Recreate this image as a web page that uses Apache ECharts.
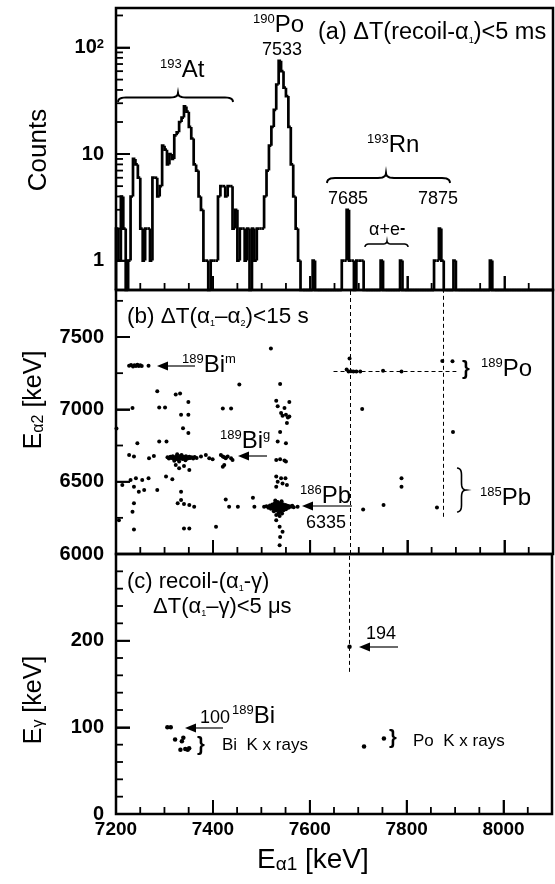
<!DOCTYPE html>
<html><head><meta charset="utf-8">
<script src="https://cdn.jsdelivr.net/npm/echarts@6/dist/echarts.min.js"></script>
<style>html,body{margin:0;padding:0;background:#fff}#c{width:555px;height:884px}</style>
</head><body><div id="c"></div>
<script>
const FF = '"Liberation Sans", Arial, Helvetica, sans-serif';

// ---------- DATA ----------
// (a) alpha1 histogram, 5 keV bins from 7200 keV
const histStart = 7200;
const histBinWidth = 5;
const histCounts = [
  2,1,4,2,0,1,4,9,8,6,
  2,1,2,2,1,6,6,4,5,12,
  11,8,10,9,15,16,20,22,28,25,
  18,14,8,7,4,3,1,1,0,1,
  1,1,4,5,5,4,5,5,2,3,
  1,2,2,1,2,0,2,1,2,2,
  2,4,7,12,18,26,45,75,60,42,
  35,18,8,4,2,1,0,0,0,0,
  0,1,0,0,0,0,0,0,0,0,
  0,0,0,1,1,3,1,1,0,1,
  1,1,0,0,0,0,0,0,0,1,
  0,0,0,0,0,0,0,1,0,0,
  0,0,0,0,0,0,0,0,0,0,
  0,1,1,2,1,0,0,0,0,1,
  0,0,0,0,0,0,0,0,0,0,
  0,0,0,0,1,0,0,0,0,0,
  0,0,0,0,0,0,0,0,0,0,
  0,0,0,0,0,0,0,0,0,0
];
// tick positions
const xTickValues = [7250,7300,7350,7400,7450,7500,7550,7600,7650,7700,7750,7800,7850,7900,7950,8000,8050];
const xMajorTicks = [7400,7600,7800,8000];
const logTickValues = [1,2,3,4,5,6,7,8,9,10,20,30,40,50,60,70,80,90,100,200];
const logMajorTicks = [1,10,100];
const ea2TickValues = [6250,6500,6750,7000,7250,7500,7750];
const ea2MajorTicks = [6500,7000,7500];
const egTickValues = [20,40,60,80,100,120,140,160,180,200,220,240,260,280];
const egMajorTicks = [100,200];

// (b) alpha1-alpha2 correlations [E_alpha1, E_alpha2]
const bimPoints = [[7227,7301],[7231,7306],[7235,7297],[7238,7304],[7241,7300],[7244,7308],[7247,7299],[7250,7305],[7253,7300],[7267,7301]];
const bigPoints = [[7306,6668],[7309,6660],[7312,6672],[7314,6664],[7317,6676],[7319,6658],[7321,6668],[7323,6662],[7325,6674],[7326,6655],[7328,6666],[7330,6670],[7331,6660],[7333,6678],[7334,6664],[7336,6668],[7337,6656],[7339,6672],[7340,6662],[7342,6666],[7344,6676],[7345,6658],[7347,6668],[7349,6662],[7351,6672],[7353,6664],[7356,6668],[7359,6660],[7362,6670],[7366,6664],[7320,6645],[7330,6640],[7343,6648],[7335,6684],[7326,6690],
  [7227,6685],[7237,6674],[7268,6662],[7278,6678],[7375,6674],[7385,6685],[7392,6662],[7399,6655],[7416,6685],[7420,6674],[7423,6668],[7426,6662],[7430,6674],[7437,6662],[7440,6650],[7423,6616],[7420,6604],[7323,6616],[7330,6593],[7340,6609],[7351,6581]];
const pbPoints = [[7505,6326],[7510,6330],[7514,6320],[7517,6336],[7519,6312],[7520,6326],[7522,6342],[7523,6318],[7525,6330],[7526,6308],[7527,6350],[7528,6324],[7529,6338],[7530,6316],[7531,6330],[7532,6344],[7533,6322],[7534,6334],[7535,6310],[7535,6328],[7536,6340],[7537,6318],[7538,6332],[7539,6352],[7540,6324],[7541,6312],[7542,6336],[7543,6328],[7544,6344],[7545,6316],[7546,6330],[7548,6322],[7549,6338],[7550,6310],[7551,6328],[7553,6334],[7555,6320],[7557,6330],[7560,6326],[7563,6334],[7566,6324],[7530,6300],[7538,6296],[7545,6302],[7525,6296],[7533,6360],[7541,6364],[7528,6370],[7535,6284],[7542,6280],[7530,6270],[7537,6262]];
const poBandPoints = [[7519,7421],[7538,7176],[7530,7060],[7557,7051],[7533,7021],[7547,7009],[7540,6975],[7550,6963],[7557,6951],[7543,6956],[7554,6944],[7552,6905],[7538,6843],[7533,6778],[7550,6766],[7530,6650],[7538,6655],[7547,6646],[7550,6639],[7530,6535],[7540,6523],[7549,6523],[7533,6500],[7543,6488],[7552,6477],[7530,6465],[7530,6234],[7537,6188],[7543,6153],[7538,6118],[7537,6060]];
const otherPoints = [[7285,7125],[7323,7102],[7332,7109],[7349,7051],[7234,7009],[7289,7012],[7301,7012],[7420,7005],[7437,7005],[7334,6963],[7349,6963],[7338,6870],[7349,6836],[7244,6766],[7289,6778],[7304,6778],[7201,6868],[7454,7171],
  [7213,6477],[7230,6512],[7241,6523],[7254,6512],[7267,6523],[7237,6465],[7247,6431],[7258,6442],[7285,6442],[7303,6535],[7316,6516],[7334,6431],[7327,6350],[7334,6373],[7340,6346],[7351,6338],[7361,6326],[7237,6350],[7234,6292],[7206,6234],[7237,6169],[7340,6176],[7351,6176],[7406,6188],[7426,6377],[7433,6326],[7451,6326],[7482,6389],[7485,6326],[7574,6326],
  [7707,7002],[7709,6308],[7751,6338],[7788,6523],[7788,6465],[7861,6322],[7894,6843]];
const po189Points = [[7681,7352],[7675,7275],[7679,7262],[7684,7264],[7689,7262],[7695,7262],[7703,7262],[7750,7266],[7788,7262],[7872,7335],[7893,7332]];
const refLinesB = [[[7682,6000],[7682,7825]],[[7874,6257],[7874,7825]],[[7648,7265],[7901,7265]]];

// (c) alpha1-gamma [E_alpha1, E_gamma]
const gammaPoints = [[7306,100],[7313,100],[7322,86],[7336,84],[7339,88],[7333,74],[7343,75],[7348,74],[7351,76],[7682,193],[7712,78],[7753,87]];
const refLinesC = [[[7682,164],[7682,300]]];

// ---------- CHART ----------
const chart = echarts.init(document.getElementById('c'));
const histData = histCounts.map((c, i) => [histStart + i*histBinWidth, histStart + (i+1)*histBinWidth, c, i > 0 ? histCounts[i-1] : 0]);

function renderHist(params, api) {
  const cs = params.coordSys;
  const base = cs.y + cs.height;
  const yOf = v => v > 0 ? Math.max(cs.y, Math.min(base, api.coord([api.value(0), v])[1])) : base;
  const X0 = api.coord([api.value(0), 1])[0];
  const X1 = api.coord([api.value(1), 1])[0];
  const yc = yOf(api.value(2)), yp = yOf(api.value(3));
  return {type:'polyline', shape:{points:[[X0, yp],[X0, yc],[X1, yc]]}, style:{stroke:'#000', lineWidth:2.7, fill:null}};
}

const gridCommon = {left:116, width:437, show:true, borderColor:'#000', borderWidth:2.5};
const majorTick = {show:true, inside:true, length:14, lineStyle:{color:'#000', width:1.8}};
function xAxis(gi, withLabels) {
  return {gridIndex:gi, type:'value', min:7200, max:8100, interval:200, position:'bottom', axisLine:{show:false}, splitLine:{show:false}, axisTick:majorTick,
      axisLabel:{show:withLabels, margin:6, color:'#000', fontSize:19, fontWeight:'bold', fontFamily:FF,
        formatter: v => (v % 200 === 0 && v <= 8000) ? String(v) : ''}};
}
const yLabelStyle = {margin:12, color:'#000', fontSize:20, fontWeight:'bold', fontFamily:FF};

const option = {
  backgroundColor:'#fff',
  animation:false,
  grid:[
    Object.assign({}, gridCommon, {top:8, height:282}),
    Object.assign({}, gridCommon, {top:290, height:264}),
    Object.assign({}, gridCommon, {top:554, height:260})
  ],
  xAxis: [xAxis(0,false), xAxis(1,false), xAxis(2,true)],
  yAxis: [
    {gridIndex:0, type:'log', logBase:10, min:0.53, max:235, position:'left', axisLine:{show:false}, axisTick:majorTick, splitLine:{show:false},
      axisLabel:Object.assign({}, yLabelStyle, {
        formatter: v => Math.abs(v-100) < 1e-6 ? '{a|10}{b|2}' : (Math.abs(v-10) < 1e-6 ? '10' : (Math.abs(v-1) < 1e-6 ? '1' : '')),
        rich:{a:{fontSize:20, fontWeight:'bold', fontFamily:FF, color:'#000'}, b:{fontSize:13, fontWeight:'bold', fontFamily:FF, color:'#000', verticalAlign:'top'}}})},
    {gridIndex:1, type:'value', min:6000, max:7825, interval:500, position:'left', axisLine:{show:false}, splitLine:{show:false}, axisTick:majorTick,
      axisLabel:Object.assign({}, yLabelStyle, {formatter: v => v % 500 === 0 ? String(v) : ''})},
    {gridIndex:2, type:'value', min:0, max:300, interval:100, position:'left', axisLine:{show:false}, splitLine:{show:false}, axisTick:majorTick,
      axisLabel:Object.assign({}, yLabelStyle, {formatter: v => v < 300 ? String(v) : ''})}
  ],
  series: [
    {type:'custom', xAxisIndex:0, yAxisIndex:0, data:histData, encode:{x:[0,1], y:2}, renderItem:renderHist, silent:true, z:5},
    {type:'scatter', xAxisIndex:1, yAxisIndex:1, data:[].concat(bimPoints, bigPoints, pbPoints, poBandPoints, otherPoints, po189Points),
      symbolSize:4, itemStyle:{color:'#000', opacity:1}, silent:true,
      markLine:{silent:true, symbol:['none','none'], label:{show:false}, lineStyle:{type:[4,3], color:'#000', width:1},
        data: refLinesB.map(l => [{coord:l[0]}, {coord:l[1]}])}},
    {type:'scatter', xAxisIndex:2, yAxisIndex:2, data:gammaPoints, symbolSize:4.5, itemStyle:{color:'#000', opacity:1}, silent:true,
      markLine:{silent:true, symbol:['none','none'], label:{show:false}, lineStyle:{type:[4,3], color:'#000', width:1},
        data: refLinesC.map(l => [{coord:l[0]}, {coord:l[1]}])}}
  ]
};
chart.setOption(option);

// ---------- TICKS placed through the axes' own scales (first in the graphic list) ----------
const G = [];
const panels = [
  {gi:0, yMin:0.53, yTicks:logTickValues, yMajor:logMajorTicks},
  {gi:1, yMin:6000, yTicks:ea2TickValues, yMajor:ea2MajorTicks},
  {gi:2, yMin:0, yTicks:egTickValues, yMajor:egMajorTicks}
];
panels.forEach(p => {
  const finder = {gridIndex:p.gi};
  const bottom = chart.convertToPixel(finder, [7200, p.yMin]);
  const x0 = bottom[0], yb = bottom[1];
  xTickValues.forEach(v => {
    const x = chart.convertToPixel(finder, [v, p.yMin])[0];
    const len = xMajorTicks.indexOf(v) >= 0 ? 14 : 7;
    G.push({type:'line', z:40, shape:{x1:x, y1:yb, x2:x, y2:yb - len}, style:{stroke:'#000', lineWidth:1.8}});
  });
  p.yTicks.forEach(v => {
    const y = chart.convertToPixel(finder, [7200, v])[1];
    const len = p.yMajor.indexOf(v) >= 0 ? 14 : 7;
    G.push({type:'line', z:40, shape:{x1:x0, y1:y, x2:x0 + len, y2:y}, style:{stroke:'#000', lineWidth:1.8}});
  });
});

// ---------- ANNOTATIONS (layout) ----------
function T(x, y, text, size, o) {
  o = o || {};
  G.push({type:'text', x:x, y:y, rotation:o.rot || 0, z:50,
    style:{text:text, fill:'#000', fontSize:size, fontFamily:FF, fontWeight:o.weight || 'normal',
      align:o.align || 'left', textAlign:o.align || 'left', verticalAlign:'middle', textVerticalAlign:'middle', rich:o.rich}});
}
function R(name, size, extra) { return Object.assign({fontSize:size, fontFamily:FF, fill:'#000', color:'#000'}, extra || {}); }
function iso(x, y, mass, sym, post) {
  const t = '{s|' + mass + '}{m|' + sym + '}' + (post ? '{s|' + post + '}' : '');
  T(x, y, t, 24, {rich:{s:R('s', 13, {verticalAlign:'top'}), m:R('m', 24)}});
}
function quad(p0, c, p2, n) { const pts = []; for (let i = 0; i <= n; i++) { const t = i/n; pts.push([(1-t)*(1-t)*p0[0] + 2*(1-t)*t*c[0] + t*t*p2[0], (1-t)*(1-t)*p0[1] + 2*(1-t)*t*c[1] + t*t*p2[1]]); } return pts; }
function bracePts(a1, a2, ac, bEnd, bTip, r) {
  const bM = (bEnd + bTip)/2;
  return [].concat(quad([a1,bEnd],[a1,bM],[a1+r,bM],6), quad([ac-r,bM],[ac,bM],[ac,bTip],6),
                   quad([ac,bTip],[ac,bM],[ac+r,bM],6), quad([a2-r,bM],[a2,bM],[a2,bEnd],6));
}
function hbrace(x1, x2, xc, yEnd, yTip, r, w) {
  G.push({type:'polyline', z:50, shape:{points:bracePts(x1, x2, xc, yEnd, yTip, r)}, style:{stroke:'#000', lineWidth:w || 2, fill:null}});
}
function vbrace(y1, y2, yc, xEnd, xTip, r, w) {
  const pts = bracePts(y1, y2, yc, xEnd, xTip, r).map(p => [p[1], p[0]]);
  G.push({type:'polyline', z:50, shape:{points:pts}, style:{stroke:'#000', lineWidth:w || 2, fill:null}});
}
function arrow(xFrom, xTip, y) {
  G.push({type:'line', z:50, shape:{x1:xFrom, y1:y, x2:xTip + 9, y2:y}, style:{stroke:'#444', lineWidth:1.6}});
  G.push({type:'polygon', z:50, shape:{points:[[xTip, y],[xTip + 11, y - 4.5],[xTip + 11, y + 4.5]]}, style:{fill:'#000'}});
}
const sub = (s) => R('u', s, {verticalAlign:'bottom'});

// axis titles
T(39, 150, 'Counts', 26, {align:'center', rot:Math.PI/2});
T(34, 400, '{m|E}{u|α2}{m| [keV]}', 25, {align:'center', rot:Math.PI/2, rich:{m:R('m', 25), u:sub(16)}});
T(34, 700, '{m|E}{u|γ}{m| [keV]}', 25, {align:'center', rot:Math.PI/2, rich:{m:R('m', 25), u:sub(16)}});
T(257, 860, '{m|E}{u|α1}{m| [keV]}', 28, {rich:{m:R('m', 28), u:sub(19)}});

// panel (a)
iso(253, 25, '190', 'Po');
T(282, 50, '7533', 18, {align:'center'});
T(318, 33, '{m|(a) ΔT(recoil-α}{u|1}{m|)<5 ms}', 23.5, {rich:{m:R('m', 23.5), u:sub(9)}});
iso(160, 70, '193', 'At');
hbrace(118, 233, 178, 102, 93, 8, 2);
iso(367, 145, '193', 'Rn');
hbrace(327, 450, 386, 183, 173, 8, 2);
T(348, 199, '7685', 18, {align:'center'});
T(438, 199, '7875', 18, {align:'center'});
T(369, 230, '{m|α+e}{s|-}', 18, {rich:{m:R('m', 18), s:R('s', 16, {verticalAlign:'top', fontWeight:'bold'})}});
hbrace(365, 408, 387, 247, 241, 5, 1.5);

// panel (b)
T(127, 317, '{m|(b) ΔT(α}{u|1}{m|–α}{u|2}{m|)<15 s}', 22.5, {rich:{m:R('m', 22.5), u:sub(9)}});
iso(182, 365, '189', 'Bi', 'm');
arrow(195, 157, 366);
iso(220, 441, '189', 'Bi', 'g');
arrow(267, 238, 456);
iso(300, 496, '186', 'Pb');
arrow(352, 302, 506);
T(326, 523, '6335', 18, {align:'center'});
T(466, 369, '}', 20, {align:'center', weight:'bold'});
iso(481, 369, '189', 'Po');
vbrace(468, 512, 490, 457, 466, 7, 1.6);
iso(480, 498, '185', 'Pb');

// panel (c)
T(127, 582, '{m|(c) recoil-(α}{u|1}{m|-γ)}', 22, {rich:{m:R('m', 22), u:sub(9)}});
T(153, 607, '{m|ΔT(α}{u|1}{m|–γ)<5 μs}', 22, {rich:{m:R('m', 22), u:sub(9)}});
T(381, 634, '194', 18, {align:'center'});
arrow(398, 359, 647);
T(215, 718, '100', 18, {align:'center'});
iso(232, 716, '189', 'Bi');
arrow(223, 185, 728);
T(201, 745, '}', 20, {align:'center', weight:'bold'});
T(222, 745, 'Bi  K x rays', 17);
T(393, 738, '}', 20, {align:'center', weight:'bold'});
T(413, 741, 'Po  K x rays', 17);

chart.setOption({graphic:{elements:G}});
</script></body></html>
